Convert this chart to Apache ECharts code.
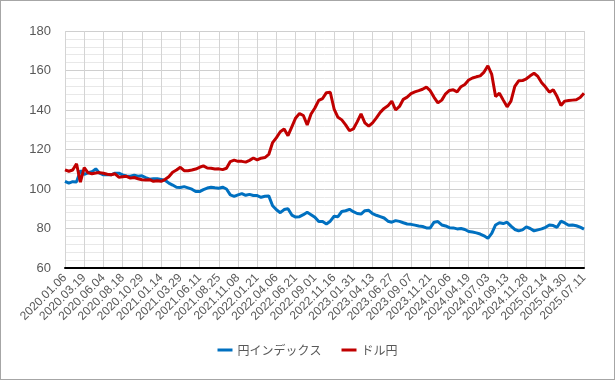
<!DOCTYPE html>
<html>
<head>
<meta charset="utf-8">
<script src="https://cdn.jsdelivr.net/npm/echarts@6/dist/echarts.min.js"></script>
<style>
  html, body { margin: 0; padding: 0; background: #fff; }
  #chart { width: 615px; height: 380px; box-sizing: border-box; border: 1px solid #a6a6a6; }
</style>
</head>
<body>
<div id="chart"></div>
<script>
// 目盛りラベル（5点ごとに1つ）
const tickLabels = [
  '2020.01.06', '2020.03.19', '2020.06.04', '2020.08.18', '2020.10.29',
  '2021.01.14', '2021.03.29', '2021.06.11', '2021.08.25', '2021.11.08',
  '2022.01.21', '2022.04.06', '2022.06.21', '2022.09.01', '2022.11.16',
  '2023.01.31', '2023.04.13', '2023.06.27', '2023.09.07', '2023.11.21',
  '2024.02.06', '2024.04.19', '2024.07.03', '2024.09.13', '2024.11.28',
  '2025.02.14', '2025.04.30', '2025.07.11'
];
const STEP = 5;

// 円インデックス
const yenIndex = [
  103.9, 103.0, 103.7, 103.6, 109.3, 107.4, 108.2, 108.7, 110.2, 108.0,
  107.2, 107.2, 107.2, 108.0, 108.0, 107.1, 106.6, 106.5, 107.0, 106.5,
  106.7, 105.8, 105.0, 105.2, 105.2, 104.8, 104.4, 103.0, 102.0, 100.9,
  100.8, 101.2, 100.6, 99.9, 98.7, 98.7, 99.7, 100.5, 100.9, 100.6,
  100.4, 100.9, 100.0, 97.0, 96.3, 97.0, 97.7, 96.8, 97.3, 96.7,
  96.7, 95.8, 96.3, 96.5, 91.5, 89.5, 88.0, 89.6, 90.0, 86.8,
  85.8, 86.0, 87.0, 88.2, 87.0, 85.7, 83.5, 83.6, 82.3, 83.7,
  86.2, 86.0, 88.6, 89.0, 89.7, 88.5, 87.6, 87.3, 89.0, 89.2,
  87.5, 86.7, 86.0, 85.3, 83.7, 83.2, 84.0, 83.6, 82.9, 82.3,
  82.1, 81.7, 81.3, 81.0, 80.3, 80.3, 83.2, 83.5, 81.8, 81.3,
  80.4, 80.3, 79.8, 80.0, 79.5, 78.5, 78.2, 77.8, 77.2, 76.3,
  75.0, 77.5, 81.8, 82.9, 82.5, 83.2, 81.2, 79.5, 78.8, 79.3,
  80.8, 80.0, 78.8, 79.3, 79.8, 80.6, 81.8, 81.5, 80.6, 83.7,
  82.8, 81.6, 81.8, 81.4, 80.7, 79.7
];

// ドル円
const usdJpy = [
  109.7, 109.0, 109.6, 112.8, 103.5, 110.8, 108.2, 107.7, 108.1, 108.3,
  108.0, 107.5, 107.2, 107.7, 106.0, 106.2, 106.4, 105.5, 105.8, 105.2,
  104.7, 104.5, 104.7, 103.9, 104.2, 103.9, 104.8, 106.2, 108.5, 109.6,
  111.0, 109.3, 109.2, 109.6, 110.1, 111.0, 111.7, 110.6, 110.5, 110.1,
  110.2, 109.8, 110.5, 113.9, 114.6, 114.0, 114.0, 113.6, 114.5, 115.7,
  114.7, 115.6, 115.9, 117.5, 123.5, 126.0, 129.0, 130.4, 127.0, 131.5,
  136.0, 138.2, 137.2, 132.4, 138.0, 141.0, 144.9, 145.8, 148.8, 149.0,
  140.5, 136.3, 135.0, 132.5, 129.5, 130.4, 134.0, 138.0, 133.5, 131.8,
  133.5, 136.0, 138.8, 140.8, 142.1, 144.5, 140.0, 141.8, 145.4, 146.5,
  148.3, 149.2, 149.8, 150.5, 151.6, 149.8, 146.4, 143.6, 145.0, 148.2,
  149.9, 150.2, 149.2, 151.8, 152.9, 155.2, 156.2, 156.8, 157.3, 159.2,
  162.4, 158.0, 146.8, 148.5, 145.0, 141.6, 144.5, 152.0, 154.8, 154.9,
  155.8, 157.3, 158.6, 157.0, 153.8, 151.6, 149.0, 150.3, 146.8, 142.3,
  144.5, 144.8, 145.0, 145.2, 146.3, 148.5
];

const categories = yenIndex.map((_, i) => (i % STEP === 0 ? tickLabels[i / STEP] : ''));

const FONT = '"Liberation Sans", "Noto Sans CJK JP", sans-serif';
const TEXT_COLOR = '#595959';

const chart = echarts.init(document.getElementById('chart'));
chart.setOption({
  animation: false,
  textStyle: { fontFamily: FONT },
  grid: { left: 64, right: 30, top: 30, bottom: 111, containLabel: false },
  legend: {
    bottom: 18,
    left: 'center',
    itemWidth: 15,
    itemHeight: 3,
    itemGap: 20,
    icon: 'rect',
    textStyle: { color: TEXT_COLOR, fontSize: 12, fontFamily: '"Noto Sans CJK JP", sans-serif' },
    data: ['円インデックス', 'ドル円']
  },
  xAxis: {
    type: 'category',
    data: categories,
    boundaryGap: false,
    axisLine: { lineStyle: { color: '#000', width: 2 } },
    axisTick: { show: false },
    axisLabel: { interval: STEP - 1, rotate: 45, color: TEXT_COLOR, fontSize: 12, margin: 8 },
    splitLine: { show: true, interval: STEP - 1, lineStyle: { color: '#d4d4d4', width: 1 } }
  },
  yAxis: {
    type: 'value',
    min: 60,
    max: 180,
    interval: 20,
    axisLine: { show: false },
    axisTick: { show: false },
    axisLabel: { color: TEXT_COLOR, fontSize: 13, margin: 14 },
    splitLine: { lineStyle: { color: '#cfcfcf', width: 1 } },
    minorTick: { show: false, splitNumber: 5 },
    minorSplitLine: { show: true, lineStyle: { color: '#e8e8e8', width: 1 } }
  },
  series: [
    {
      name: '円インデックス',
      type: 'line',
      data: yenIndex,
      showSymbol: false,
      lineStyle: { color: '#0070C0', width: 3 },
      itemStyle: { color: '#0070C0' }
    },
    {
      name: 'ドル円',
      type: 'line',
      data: usdJpy,
      showSymbol: false,
      lineStyle: { color: '#C00000', width: 3 },
      itemStyle: { color: '#C00000' }
    }
  ]
});
</script>
</body>
</html>
